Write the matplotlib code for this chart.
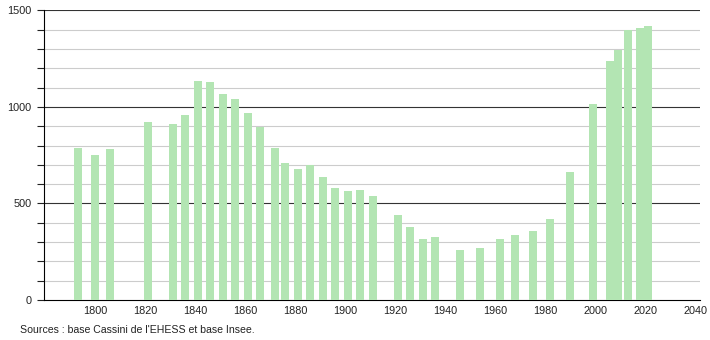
import matplotlib.pyplot as plt
from matplotlib.ticker import MultipleLocator

years = [1793, 1800, 1806, 1821, 1831, 1836, 1841, 1846, 1851, 1856,
         1861, 1866, 1872, 1876, 1881, 1886, 1891, 1896, 1901, 1906,
         1911, 1921, 1926, 1931, 1936, 1946, 1954, 1962, 1968, 1975,
         1982, 1990, 1999, 2006, 2009, 2013, 2018, 2019, 2020, 2021]
population = [788, 750, 781, 921, 912, 959, 1134, 1128, 1066, 1040,
              966, 897, 785, 707, 681, 698, 638, 579, 564, 569,
              541, 440, 378, 316, 326, 259, 271, 316, 336, 357,
              419, 664, 1017, 1236, 1297, 1400, 1408, 1409, 1411, 1417]

source = "Sources : base Cassini de l'EHESS et base Insee."

plt.rcParams['font.family'] = ['Liberation Sans', 'DejaVu Sans']

fig = plt.figure(figsize=(7.1, 3.4), dpi=100)
ax = fig.add_axes([0.062, 0.1176, 0.924, 0.852])

ax.bar(years, population, width=3.2, color="#b3e5b3", zorder=3)

ax.set_xlim(1779.6, 2042)
ax.set_ylim(0, 1500)

# grid: light every 100, dark every 500
for y in range(100, 1500, 100):
    if y % 500 != 0:
        ax.axhline(y, color="#cccccc", lw=0.8, zorder=1)
for y in (500, 1000, 1500):
    ax.axhline(y, color="#333333", lw=0.8, zorder=2)

ax.set_xticks(range(1800, 2041, 20))
ax.yaxis.set_major_locator(MultipleLocator(500))
ax.yaxis.set_minor_locator(MultipleLocator(100))
ax.tick_params(axis="x", length=0, pad=4, labelsize=7.8, colors="#222222")
ax.tick_params(axis="y", which="both", length=5, width=0.8, pad=4,
               labelsize=7.8, colors="#222222")

for side in ("top", "right"):
    ax.spines[side].set_visible(False)
ax.spines["left"].set_color("#000000")
ax.spines["bottom"].set_color("#000000")

fig.text(0.028, 0.02, source, fontsize=7.6, color="#222222")

fig.savefig("out.png", dpi=100)
